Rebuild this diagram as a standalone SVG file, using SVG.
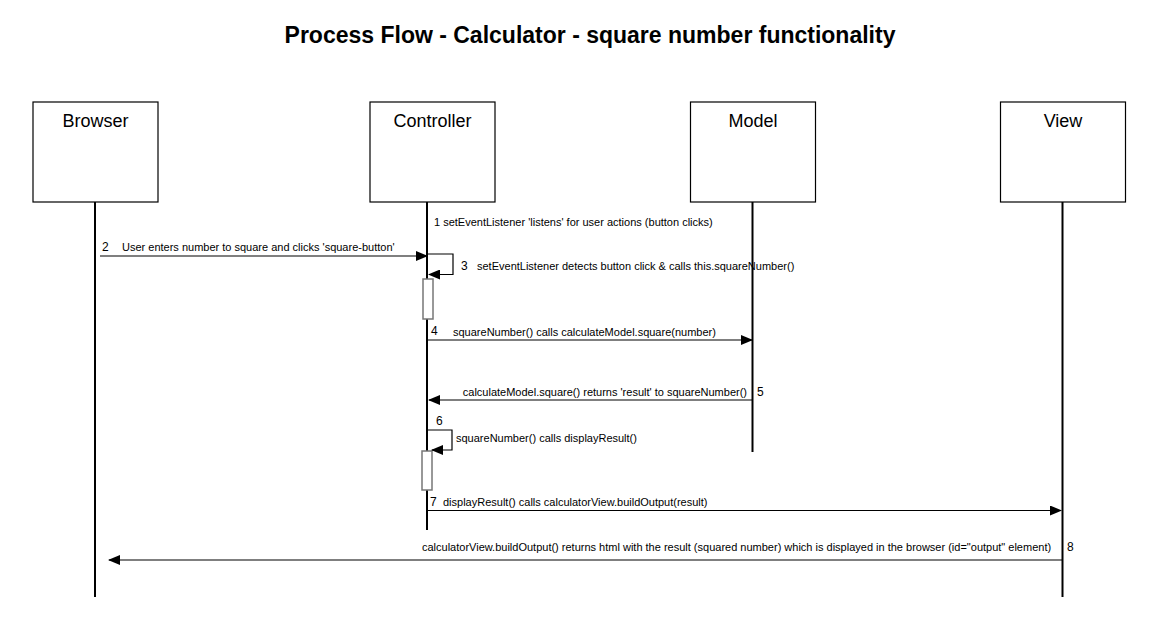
<svg xmlns="http://www.w3.org/2000/svg" width="1152" height="630" viewBox="0 0 1152 630">
<style>
.box{fill:#fff;stroke:#000;stroke-width:1.2}
.life{stroke:#000;stroke-width:2;fill:none}
.msg{stroke:#000;stroke-width:1.2;fill:none}
.act{fill:#fff;stroke:#777;stroke-width:1.5}
.hd{font-family:"Liberation Sans",Arial,sans-serif;font-size:18px;text-anchor:middle;fill:#000}
.t{font-family:"Liberation Sans",Arial,sans-serif;font-size:11px;fill:#000}
.n{font-family:"Liberation Sans",Arial,sans-serif;font-size:12px;fill:#000}
.title{font-family:"Liberation Sans",Arial,sans-serif;font-size:23px;font-weight:bold;text-anchor:middle;fill:#000}
</style>
<defs>
<marker id="ah" markerUnits="userSpaceOnUse" markerWidth="12" markerHeight="10" refX="11" refY="5" orient="auto">
<path d="M0,0 L12,5 L0,10 Z" fill="#000"/>
</marker>
</defs>
<rect width="1152" height="630" fill="#fff"/>
<text class="title" x="590" y="43">Process Flow - Calculator - square number functionality</text>

<g id="browser">
<rect class="box" x="33" y="102" width="125" height="100"/>
<text class="hd" x="95.5" y="127">Browser</text>
<line class="life" x1="95" y1="202" x2="95" y2="597"/>
</g>
<g id="controller">
<rect class="box" x="370" y="102" width="125" height="100"/>
<text class="hd" x="432.5" y="127">Controller</text>
<line class="life" x1="427" y1="202" x2="427" y2="530"/>
<rect class="act" x="423" y="279" width="10" height="40"/>
<rect class="act" x="422" y="451" width="10" height="39"/>
</g>
<g id="model">
<rect class="box" x="690.5" y="102" width="125" height="100"/>
<text class="hd" x="753" y="127">Model</text>
<line class="life" x1="752.5" y1="202" x2="752.5" y2="452"/>
</g>
<g id="view">
<rect class="box" x="1000.5" y="102" width="125" height="100"/>
<text class="hd" x="1063" y="127">View</text>
<line class="life" x1="1062.5" y1="202" x2="1062.5" y2="597"/>
</g>

<g id="connectors">
<line class="msg" x1="100" y1="256" x2="427" y2="256" marker-end="url(#ah)"/>
<polyline class="msg" points="427,254 453,254 453,274.5 429,274.5" marker-end="url(#ah)"/>
<line class="msg" x1="427" y1="340" x2="752" y2="340" marker-end="url(#ah)"/>
<line class="msg" x1="752" y1="400" x2="429" y2="400" marker-end="url(#ah)"/>
<polyline class="msg" points="427,430 452,430 452,450 432,450" marker-end="url(#ah)"/>
<line class="msg" x1="427" y1="510.5" x2="1061" y2="510.5" marker-end="url(#ah)"/>
<line class="msg" x1="1062" y1="560" x2="109" y2="560" marker-end="url(#ah)"/>
</g>

<g id="labels">
<text class="t" x="434" y="226">1 setEventListener 'listens' for user actions (button clicks)</text>
<text class="n" x="102" y="251">2</text>
<text class="t" x="122" y="251">User enters number to square and clicks 'square-button'</text>
<text class="n" x="461" y="270">3</text>
<text class="t" x="477" y="270">setEventListener detects button click &amp; calls this.squareNumber()</text>
<text class="n" x="431" y="335">4</text>
<text class="t" x="453" y="336">squareNumber() calls calculateModel.square(number)</text>
<text class="t" x="747" y="396" text-anchor="end">calculateModel.square() returns 'result' to squareNumber()</text>
<text class="n" x="757" y="396">5</text>
<text class="n" x="436" y="425">6</text>
<text class="t" x="456" y="442">squareNumber() calls displayResult()</text>
<text class="n" x="430" y="506">7</text>
<text class="t" x="443" y="506">displayResult() calls calculatorView.buildOutput(result)</text>
<text class="t" x="422" y="551">calculatorView.buildOutput() returns html with the result (squared number) which is displayed in the browser (id="output" element)</text>
<text class="n" x="1067" y="551">8</text>
</g>
</svg>
